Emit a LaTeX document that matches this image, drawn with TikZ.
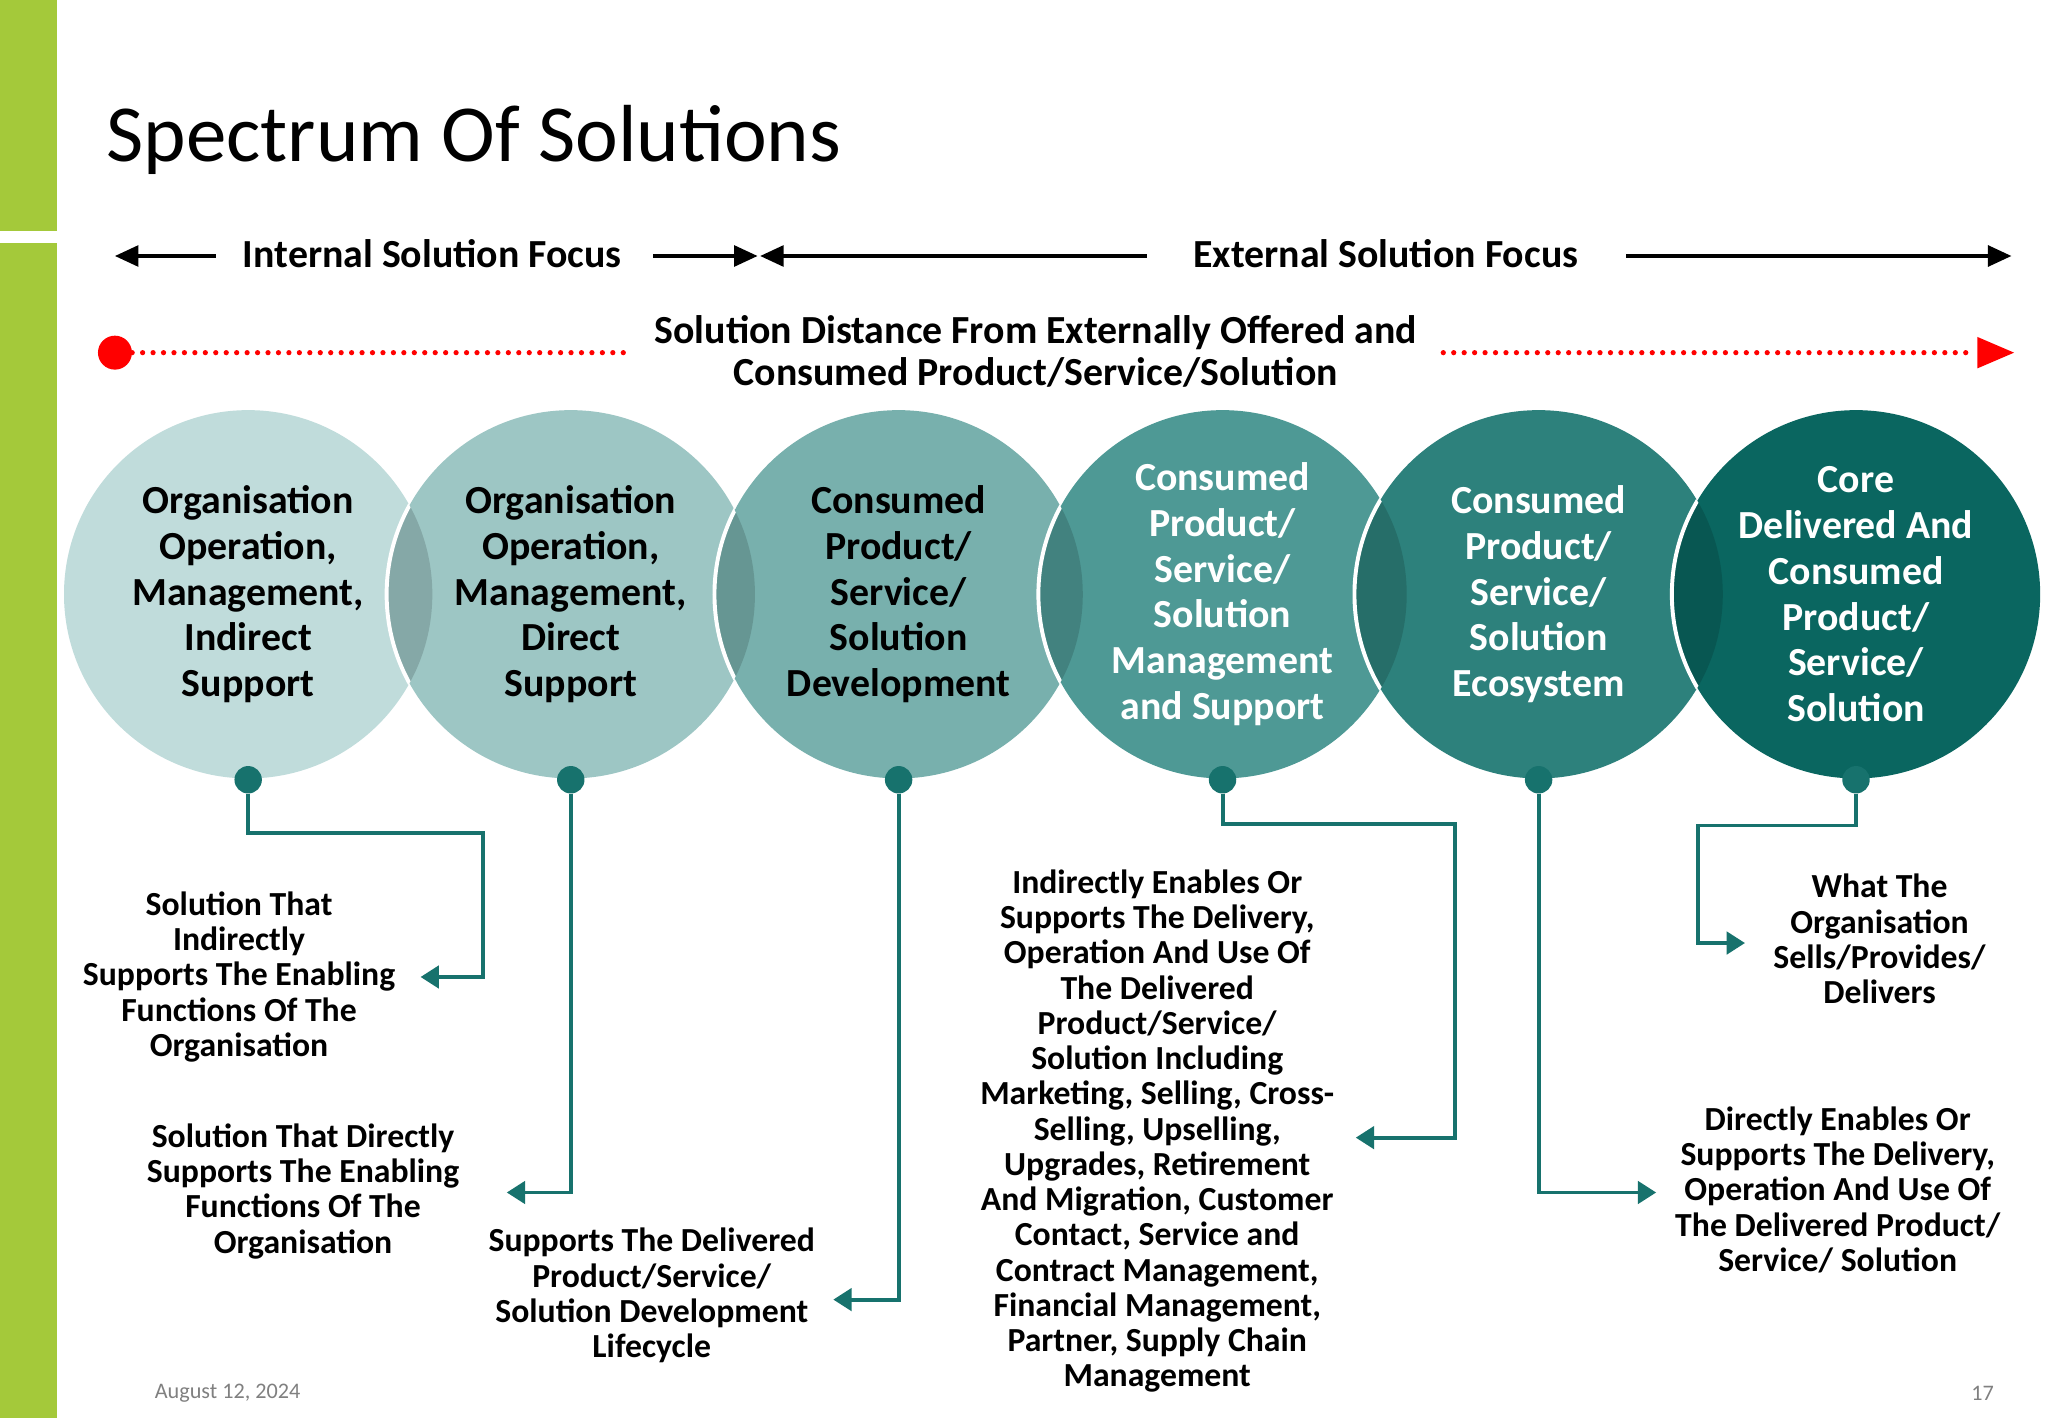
\documentclass[tikz,border=0pt]{standalone}
\usepackage{fontspec}
\setmainfont{Carlito}
\usetikzlibrary{arrows.meta}
\definecolor{gbar}{HTML}{A4C93A}
\definecolor{cA}{HTML}{C0DCDB}
\definecolor{cB}{HTML}{9DC6C4}
\definecolor{cC}{HTML}{78B0AD}
\definecolor{cD}{HTML}{4E9995}
\definecolor{cE}{HTML}{2D817C}
\definecolor{cF}{HTML}{0A6660}
\definecolor{conn}{HTML}{17726D}
\begin{document}
\begin{tikzpicture}[x=1pt,y=-1pt,
 ctext/.style={align=center,font=\fontsize{30.5}{35}\selectfont\bfseries},
 btext/.style={align=center,font=\fontsize{25.8}{27}\selectfont\bfseries},
 htext/.style={font=\fontsize{30.5}{33}\selectfont\bfseries},
 conn/.style={draw=conn,line width=3pt,-{Triangle[width=17pt,length=14pt]}},
 harr/.style={line width=2.5pt,-{Triangle[width=16pt,length=18pt]}},
 reddot/.style={red,line width=4pt,line cap=round,dash pattern=on 0pt off 8pt},
 dot/.style={circle,fill=conn,minimum size=21pt,inner sep=0pt}]
\useasboundingbox (0,0) rectangle (1568,1086);
\fill[white] (0,0) rectangle (1568,1086);
\fill[gbar] (0,0) rectangle (44,177);
\fill[gbar] (0,186) rectangle (44,1086);
\node[anchor=west,font=\fontsize{62}{64}\selectfont] (title) at (78,107) {Spectrum Of Solutions};
% header
\node[htext] (int) at (331,194) {Internal Solution Focus};
\node[htext] (ext) at (1061,194) {External Solution Focus};
\coordinate (l1) at (165,196); \coordinate (l0) at (88,196);
\coordinate (m1) at (500,196); \coordinate (m2) at (580,196);
\coordinate (m3) at (878,196); \coordinate (m4) at (582,196);
\coordinate (r1) at (1245,196); \coordinate (r2) at (1540,196);
\draw[harr] (l1) -- (l0);
\draw[harr] (m1) -- (m2);
\draw[harr] (m3) -- (m4);
\draw[harr] (r1) -- (r2);
% red dotted
\node[circle,fill=red,minimum size=26pt,inner sep=0] (rd) at (88,270) {};
\coordinate (ra) at (485,270); \coordinate (rb) at (1105,270); \coordinate (rc) at (1512,270); \coordinate (re) at (1542,270);
\draw[reddot] (rd) -- (ra);
\draw[reddot] (rb) -- (rc);
\fill[red] (1514,258) -- (1542,270) -- (1514,282) -- cycle;
\node[align=center,font=\fontsize{30.5}{32}\selectfont\bfseries] (dist) at (793,269) {Solution Distance From Externally Offered and\\Consumed Product/Service/Solution};
% circles
\def\R{141}
\foreach \x/\c in {190/cA,437/cB,688/cC,936/cD,1178/cE,1421/cF}{
  \fill[\c] (\x,455) circle (\R);
}
% lenses
\foreach \a/\b/\c in {190/437/cB,437/688/cC,688/936/cD,936/1178/cE,1178/1421/cF}{
  \begin{scope}
  \clip (\a,455) circle (\R);
  \fill[\c!85!black] (\b,455) circle (\R);
  \end{scope}
  \begin{scope}
  \clip (\a,455) circle (\R);
  \draw[white,line width=3pt] (\b,455) circle (\R);
  \end{scope}
}
\node[ctext] (c1) at (190,455) {Organisation\\Operation,\\Management,\\Indirect\\Support};
\node[ctext] (c2) at (437,455) {Organisation\\Operation,\\Management,\\Direct\\Support};
\node[ctext] (c3) at (688,455) {Consumed\\Product/\\Service/\\Solution\\Development};
\node[ctext,white] (c4) at (936,455) {Consumed\\Product/\\Service/\\Solution\\Management\\and Support};
\node[ctext,white] (c5) at (1178,455) {Consumed\\Product/\\Service/\\Solution\\Ecosystem};
\node[ctext,white] (c6) at (1421,455) {Core\\Delivered And\\Consumed\\Product/\\Service/\\Solution};
% dots
\node[dot] (d1) at (190,597) {};
\node[dot] (d2) at (437,597) {};
\node[dot] (d3) at (688,597) {};
\node[dot] (d4) at (936,597) {};
\node[dot] (d5) at (1178,597) {};
\node[dot] (d6) at (1421,597) {};
% texts
\node[btext] (t1) at (183,748) {Solution That\\Indirectly\\Supports The Enabling\\Functions Of The\\Organisation};
\node[btext] (t2) at (232,912) {Solution That Directly\\Supports The Enabling\\Functions Of The\\Organisation};
\node[btext] (t3) at (499,992) {Supports The Delivered\\Product/Service/\\Solution Development\\Lifecycle};
\node[btext] (t4) at (886,866) {Indirectly Enables Or\\Supports The Delivery,\\Operation And Use Of\\The Delivered\\Product/Service/\\Solution Including\\Marketing, Selling, Cross-\\Selling, Upselling,\\Upgrades, Retirement\\And Migration, Customer\\Contact, Service and\\Contract Management,\\Financial Management,\\Partner, Supply Chain\\Management};
\node[btext] (t5) at (1407,911) {Directly Enables Or\\Supports The Delivery,\\Operation And Use Of\\The Delivered Product/\\Service/ Solution};
\node[btext] (t6) at (1439,719) {What The\\Organisation\\Sells/Provides/\\Delivers};
% connectors
\coordinate (e1) at (322,748); \coordinate (e2) at (388,913); \coordinate (e3) at (638,995);
\coordinate (e4) at (1038,871); \coordinate (e5) at (1268,913); \coordinate (e6) at (1336,722);
\draw[conn] (d1) |- (370,638) |- (e1);
\draw[conn] (d2) |- (e2);
\draw[conn] (d3) |- (e3);
\draw[conn] (d4) |- (1114,631) |- (e4);
\draw[conn] (d5) |- (e5);
\draw[conn] (d6) |- (1300,632) |- (e6);
% footer
\node[anchor=west,text=gray,font=\fontsize{17}{18}\selectfont] (date) at (115,1067) {August 12, 2024};
\node[text=gray,font=\fontsize{17}{18}\selectfont] (pg) at (1518,1067) {17};
\end{tikzpicture}
\end{document}
